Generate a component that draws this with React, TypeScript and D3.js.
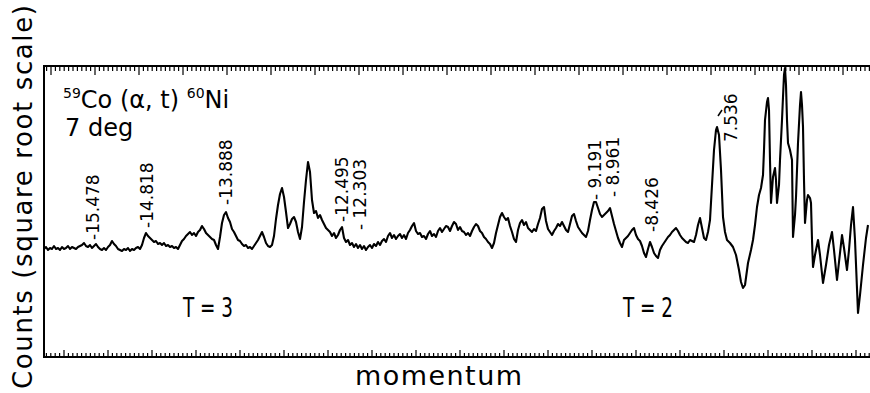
import * as d3 from 'd3'

const width = 870
const height = 393
const plot = { left: 44, right: 870, top: 66, bottom: 357 }

// low-excitation part of the spectrum, one reading every 2 channels from channel 0
const scanCounts = [
  108, 110, 107, 109, 108, 111, 108, 109, 107, 110,
  108, 109, 111, 108, 110, 109, 108, 110, 111, 112,
  114, 111, 110, 112, 109, 111, 113, 110, 108, 107,
  109, 107, 110, 112, 116, 113, 111, 108, 107, 106,
  108, 107, 109, 106, 108, 107, 109, 110, 108, 112,
  119, 124, 121, 119, 117, 115, 116, 113, 114, 112,
  114, 111, 112, 110, 111, 109, 110, 108, 112, 116,
  118, 121, 123, 125, 122, 124, 121, 125, 127, 131,
  128, 124, 122, 120, 118, 117, 112, 108, 120, 134,
  142, 145, 139, 135, 128, 125, 121, 117, 116, 113,
  111, 112, 109, 110, 108, 111, 114, 117, 121, 125,
  120, 114, 111, 110, 112, 121, 138, 152, 163, 169,
  160, 145, 129, 133, 138, 140, 135, 125, 118, 130,
  155, 177, 195, 185, 157, 144, 146, 139, 142, 137,
  133, 129, 127, 125, 121, 124, 119, 122, 127, 130,
  119, 115, 117, 112, 114, 110, 113, 109, 112, 108,
  111, 107, 110, 112, 109, 113, 111, 115, 112, 116,
  118, 115, 121, 124, 119, 122, 118, 121, 123, 119,
  122, 118, 124, 127, 131, 134, 126, 123, 124, 120,
  121, 118, 123, 126, 121, 123, 120, 126, 129, 125,
  128, 131, 130, 126, 131, 135, 133, 127, 130, 126,
  125, 122, 124, 121, 126, 130, 133, 131, 126, 124,
  120, 118, 115, 113, 109, 114, 124, 132, 140, 144,
  140, 137, 139, 131, 125, 118, 115, 127, 134, 137,
  132, 135, 129, 127, 125, 128, 126, 133, 139, 148,
  150, 136, 128, 125, 122, 126, 129, 133, 131, 135,
  131, 127, 125, 133, 141, 143, 136, 130, 127, 124,
  122, 120, 126, 137, 147, 155, 155, 149, 143, 140,
  142, 144, 146, 149, 141, 133, 126, 119, 114, 110,
  117, 119, 121, 124, 127, 129, 122, 118, 116, 111,
  104, 100, 108, 115, 110, 104, 101, 99, 107, 111,
  114, 117, 120, 122, 125, 127, 129, 126, 122, 119,
  117, 115, 114, 117, 116, 115, 122, 132, 139, 129, 119,
]

// T=2 region, read point by point: [channel, counts]
const peakRegion: [number, number][] = [
  [662, 117], [664, 125], [666, 137], [668, 172], [670, 207], [672, 227],
  [673, 230], [675, 222], [677, 187], [679, 140], [681, 125], [683, 117],
  [686, 114], [689, 110], [692, 102], [695, 87], [697, 75], [699, 69],
  [701, 72], [704, 94], [707, 107], [709, 117], [711, 132], [713, 150],
  [715, 162], [717, 169], [719, 182], [720, 207], [721, 237], [723, 255],
  [724, 259], [725, 247], [726, 197], [727, 154], [728, 167], [729, 180],
  [731, 189], [732, 177], [733, 154], [735, 172], [736, 197], [738, 237],
  [739, 260], [740, 282], [741, 289], [742, 272], [743, 237], [744, 214],
  [746, 207], [748, 197], [749, 120], [751, 142], [752, 160], [753, 187],
  [754, 214], [756, 252], [757, 265], [758, 252], [759, 230], [760, 177],
  [761, 134], [763, 157], [764, 162], [766, 159], [767, 154], [768, 117],
  [769, 90], [771, 102], [774, 117], [776, 102], [779, 74], [782, 92],
  [785, 112], [788, 125], [790, 107], [793, 77], [795, 95], [798, 122],
  [800, 109], [803, 87], [805, 107], [807, 132], [809, 150], [811, 117],
  [814, 44], [816, 62], [819, 92], [822, 119], [824, 132],
]

const stateLabels = ['-15.478', '-14.818', '-13.888', '-12.495', '- 12.303', '- 9.191', '- 8.961', '-8.426', '7.536']
const labelChannels = [49, 103, 182, 298, 316, 551, 569, 608, 687]
const labelCounts = [117, 129, 152, 135, 127, 157, 160, 125, 215]

const App = () => {
  const x = d3.scaleLinear().domain([0, 826]).range([plot.left, plot.right])
  const y = d3.scaleLinear().domain([0, 291]).range([plot.bottom, plot.top])

  const points: [number, number][] = scanCounts
    .map((c, i) => [i * 2, c] as [number, number])
    .concat(peakRegion)

  const line = d3
    .line<[number, number]>()
    .x(d => x(d[0]))
    .y(d => y(d[1]))

  // focal-plane ruler: 10 small divisions per big one
  const bottomDial = d3.scaleLinear().domain([0, 10]).range([108, 152])
  const topDial = d3.scaleLinear().domain([0, 10]).range([623, 667])
  const bottomTicks = d3.range(-14, 175)
  const topTicks = d3.range(-131, 57)

  const font = "'DejaVu Sans', sans-serif"

  return (
    <svg
      width={width}
      height={height}
      style={{ position: 'absolute', left: 0, top: 0, background: '#fff' }}
      fontFamily={font}
    >
      {/* frame */}
      <g stroke="#000" strokeWidth={2} fill="none">
        <line x1={plot.left} x2={width} y1={plot.top} y2={plot.top} />
        <line x1={plot.left} x2={width} y1={plot.bottom} y2={plot.bottom} />
        <line x1={plot.left} x2={plot.left} y1={plot.top - 1} y2={plot.bottom + 1} />
      </g>
      <g stroke="#000" strokeWidth={1.2}>
        {bottomTicks.map(i => (
          <line
            key={'b' + i}
            x1={bottomDial(i)}
            x2={bottomDial(i)}
            y1={plot.bottom}
            y2={plot.bottom - (i % 10 === 0 ? 7 : 4)}
          />
        ))}
        {topTicks.map(i => (
          <line
            key={'t' + i}
            x1={topDial(i)}
            x2={topDial(i)}
            y1={plot.top}
            y2={plot.top + (i % 10 === 0 ? 9 : 5)}
          />
        ))}
      </g>

      <path d={line(points) ?? ''} fill="none" stroke="#000" strokeWidth={2.1} strokeLinejoin="round" />

      {/* level energies */}
      {stateLabels.map((s, i) => (
        <text
          key={s}
          transform={`translate(${x(labelChannels[i])},${y(labelCounts[i])}) rotate(-90)`}
          dy="0.35em"
          fontSize={17}
        >
          {s}
        </text>
      ))}
      <line
        x1={x(labelChannels[8]) - 13}
        y1={y(labelCounts[8]) - 26}
        x2={x(labelChannels[8]) - 9}
        y2={y(labelCounts[8]) - 32}
        stroke="#000"
        strokeWidth={1.5}
      />

      <text x={63} y={108} fontSize={24}>
        <tspan fontSize={14} dy={-10}>59</tspan>
        <tspan dy={10}>Co (α, t) </tspan>
        <tspan fontSize={14} dy={-10}>60</tspan>
        <tspan dy={10}>Ni</tspan>
      </text>
      <text x={65} y={136} fontSize={24}>7 deg</text>

      <text x={183} y={317} fontSize={26} textLength={50} lengthAdjust="spacingAndGlyphs">T = 3</text>
      <text x={623} y={317} fontSize={26} textLength={50} lengthAdjust="spacingAndGlyphs">T = 2</text>

      <text x={355} y={385} fontSize={27} textLength={167}>momentum</text>
      <text
        transform="translate(32,389) rotate(-90)"
        fontSize={26}
        textLength={384}
      >
        Counts (square root scale)
      </text>
    </svg>
  )
}

export default App
